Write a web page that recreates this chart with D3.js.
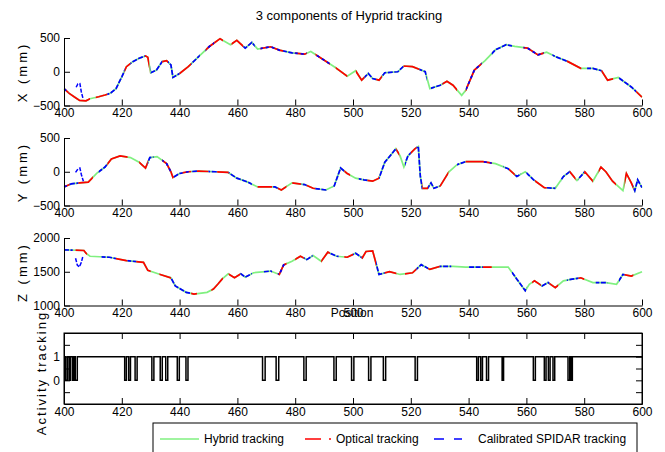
<!DOCTYPE html>
<html><head><meta charset="utf-8">
<script src="https://cdn.jsdelivr.net/npm/d3@7"></script>
<style>
body{margin:0;background:#fff}
svg text{font-family:'Liberation Sans',Arial,sans-serif;fill:#000}
</style>
</head><body>
<svg id="c" width="665" height="452"></svg>
<script>
// ---------- data ----------
const titleText = "3 components of Hyprid tracking";
const xTicks = [400,420,440,460,480,500,520,540,560,580,600];
const yTicksXY = [-500,0,500];
const yTicksZ = [1000,1500,2000];
const actTicks = [-0.5,0,0.5,1,1.5];
const actTickLabels = {"0":"0","1":"1"};
const legendLabels = ["Hybrid tracking","Optical tracking","Calibrated SPIDAR tracking"];

// X component (hybrid)
const xPos = [400,401.8,404,405.4,407.6,409,412,414.2,416,418,420,421.6,423.8,426,428.2,429,430,432,434,435.5,437,437.7,440,443,446.5,450.2,454,457.6,459.8,462.7,465,467,471.5,474.5,478.9,483.3,485.4,489,493.5,498,500.9,503,505.3,506.8,509,511,515.5,517.6,520.6,525,526.6,530.2,532.5,534.6,537.6,539,542,545.7,549.3,553,556,560.4,564,567,570,574.4,578.8,583,586,588.1,591.8,596.3,600];
const xVal = [-250,-320,-385,-425,-430,-400,-370,-345,-320,-250,-75,75,150,200,235,215,-15,25,150,165,100,-85,-25,75,220,370,490,400,465,350,435,335,370,320,280,260,300,200,75,-65,15,-125,-25,-100,-125,-15,0,85,75,0,-250,-200,-140,-200,-350,-275,25,165,325,400,375,350,250,290,225,150,50,50,15,-125,-85,-225,-375];
// Y component
const yPos = [400,402.5,405.4,408.4,411.3,414.2,416.4,419.4,423,426,428.2,429.7,432.2,435.5,437,437.7,440,443,446.5,452.4,456.8,459.8,463.4,467,473,475.2,478.9,483.3,486.2,490.6,493.5,495.7,498,500.9,503.8,506.8,509,511,513.3,514.8,516.3,517.6,519,521.4,522.6,523.3,524,525.8,527,528,530.2,533.2,536,539,544.9,549.3,553.7,556.7,559.6,562.5,566.2,570,572.8,575,577.5,580.2,583,585.8,587.5,589.8,593.4,594.6,596.3,597.5,598.5,600];
const yVal = [-225,-180,-165,-155,-25,70,190,235,210,140,55,210,225,120,0,-85,-25,0,10,0,-10,-95,-150,-225,-225,-270,-165,-190,-245,-270,-210,55,-25,-95,-120,-140,-95,140,260,340,235,70,235,340,375,-70,-245,-245,-165,-245,-210,0,105,150,150,120,45,-70,0,-120,-235,-245,-70,0,-130,0,-140,70,0,-140,-280,-25,-165,-280,-120,-235];
// Z component
const zPos = [400,406.9,407.6,409,415.7,421.6,427.5,429,433.3,437,438.5,442.3,445,449.5,451.7,453.2,454.7,456.8,459,461.2,462.7,465.6,471.5,474.5,476,478.9,481.8,484,486.2,489,491.3,494.3,498,500.9,503.2,504.5,506.8,509,512.6,516.3,520.6,523.6,526.6,530.2,534.6,539,546.4,553.7,556.7,559.6,561,562.8,565.4,567.5,570,572.8,575.8,578.8,583,587.5,591.2,593.4,596.3,600];
const zVal = [1825,1815,1775,1730,1715,1665,1640,1520,1460,1410,1290,1195,1170,1195,1245,1315,1390,1470,1410,1470,1420,1485,1510,1460,1600,1655,1730,1680,1740,1655,1790,1730,1715,1775,1705,1800,1810,1460,1500,1460,1485,1605,1535,1580,1580,1570,1570,1570,1390,1220,1315,1365,1290,1340,1265,1365,1390,1410,1340,1340,1315,1460,1435,1500];

// SPIDAR excursions away from the hybrid path
const spidarDevXPos = [404.2,404.8,405.5,406.0,406.6];
const spidarDevXVal = [-230,-180,-175,-300,-400];
const spidarDevYPos = [404.0,404.8,405.5,406.0,406.7];
const spidarDevYVal = [-10,40,55,-40,-140];
const spidarDevZPos = [404.0,404.6,405.3,406.0,406.6];
const spidarDevZVal = [1700,1600,1570,1640,1740];

// which source is drawn on top from each start position: h=hybrid only, o=optical, s=SPIDAR, m=both
const segX = [[400,'m'],[401.5,'o'],[409,'h'],[411,'o'],[415,'s'],[421,'o'],[423,'s'],[428,'o'],[429.5,'h'],[430,'s'],[434,'o'],[436,'s'],[440,'o'],[444,'s'],[447,'h'],[449,'m'],[452,'o'],[455,'h'],[458,'o'],[462,'s'],[466,'h'],[468,'m'],[476,'s'],[480,'m'],[484,'h'],[487,'m'],[492,'h'],[494,'o'],[498,'h'],[501,'o'],[504,'s'],[508,'o'],[510,'s'],[517.5,'o'],[523,'s'],[525.5,'h'],[527,'s'],[531,'o'],[536,'h'],[539,'m'],[544.5,'h'],[548,'s'],[555,'h'],[559,'m'],[566,'h'],[569,'s'],[574,'o'],[579,'h'],[581,'s'],[586,'o'],[590,'h'],[592,'s'],[598,'o']];
const segY = [[400,'m'],[402,'s'],[405,'o'],[410,'h'],[412,'s'],[415,'o'],[422,'h'],[426,'o'],[429,'s'],[431,'h'],[434,'m'],[437,'o'],[438,'s'],[441,'m'],[444,'s'],[446,'o'],[450,'s'],[453,'o'],[457,'s'],[465,'h'],[467,'o'],[472,'s'],[474,'o'],[477,'h'],[479,'o'],[482,'s'],[484,'o'],[487,'s'],[491,'h'],[493,'s'],[497,'o'],[499,'h'],[502,'s'],[505,'o'],[509,'s'],[515,'o'],[516,'h'],[518,'s'],[520,'o'],[522,'s'],[524,'o'],[526,'s'],[530,'o'],[533,'h'],[536,'s'],[539,'o'],[545,'m'],[548,'h'],[552,'s'],[554,'o'],[556,'s'],[558,'h'],[560,'s'],[563,'o'],[567,'s'],[570,'h'],[572,'s'],[575,'o'],[577,'h'],[578,'s'],[580,'o'],[583,'h'],[585,'o'],[591,'h'],[594,'o'],[597,'s']];
const segZ = [[400,'s'],[403,'h'],[404,'o'],[408,'h'],[413,'s'],[418,'o'],[422,'s'],[425,'o'],[430,'h'],[433,'o'],[437,'s'],[444,'o'],[446,'h'],[451,'o'],[455,'h'],[457,'o'],[461,'s'],[465,'h'],[469,'s'],[472,'h'],[474,'m'],[477,'h'],[480,'o'],[483,'s'],[486,'h'],[489,'o'],[492,'s'],[495,'h'],[497,'o'],[500,'s'],[503,'o'],[508,'s'],[511,'o'],[515,'h'],[518,'o'],[522,'s'],[526,'o'],[530,'s'],[534,'h'],[540,'s'],[545,'o'],[548,'h'],[555,'s'],[560,'h'],[562,'o'],[565,'s'],[568,'o'],[571,'h'],[574,'s'],[578,'o'],[580,'h'],[584,'s'],[588,'h'],[592,'s'],[594,'o'],[597,'h']];

// activity tracking: intervals where the signal drops from 1 to 0
const activityLow = [[400.6,401.2],[401.8,402.3],[403.0,403.4],[403.9,404.6],[421.0,421.6],[422.4,423.0],[424.6,425.3],[430.4,431.1],[433.3,434.0],[435.2,435.9],[439.2,439.9],[442.2,442.9],[468.7,469.6],[473.4,474.3],[483.0,483.8],[493.4,494.2],[499.5,500.3],[505.4,506.2],[510.5,511.3],[521.5,522.3],[542.8,543.4],[544.2,544.8],[546.2,546.9],[551.6,552.1],[562.4,563.1],[566.2,566.8],[567.6,568.2],[569.2,569.8],[574.4,575.0],[575.4,575.9]];

// ---------- drawing ----------
const COL = {h:'#80f080', o:'#ff0000', s:'#0000ff'};
const svg = d3.select('#c');
const x = d3.scaleLinear([400,600],[64,642]);
const FS = 12;

svg.append('text').attr('x',349).attr('y',20).attr('text-anchor','middle')
  .style('font-size','13px').text(titleText);

function styleAxis(g){
  g.selectAll('path').attr('stroke','#000').attr('stroke-width',1);
  g.selectAll('line').attr('stroke','#000').attr('stroke-width',1);
  g.selectAll('text').style('font-size',FS+'px').style('font-family',"'Liberation Sans',Arial,sans-serif").attr('fill','#000');
}

const panels = [
  {pos:xPos,val:xVal,seg:segX,dp:spidarDevXPos,dv:spidarDevXVal,dom:[-500,500],rng:[105.5,38],ticks:yTicksXY,label:'X (mm)',ly:72},
  {pos:yPos,val:yVal,seg:segY,dp:spidarDevYPos,dv:spidarDevYVal,dom:[-500,500],rng:[205.5,138],ticks:yTicksXY,label:'Y (mm)',ly:172},
  {pos:zPos,val:zVal,seg:segZ,dp:spidarDevZPos,dv:spidarDevZVal,dom:[1000,2000],rng:[305.5,238],ticks:yTicksZ,label:'Z (mm)',ly:272}
];

const defs = svg.append('defs');
let clipN = 0;
panels.forEach((p,pi)=>{
  const y = d3.scaleLinear(p.dom,p.rng);
  const line = d3.line().x(d=>x(d[0])).y(d=>y(d[1]));
  const pts = p.pos.map((v,i)=>[v,p.val[i]]);
  const g = svg.append('g');
  g.append('path').attr('d',line(pts)).attr('fill','none').attr('stroke',COL.h).attr('stroke-width',1.7);
  p.seg.forEach((s,si)=>{
    const a = s[0], b = si<p.seg.length-1 ? p.seg[si+1][0] : 600;
    if(s[1]==='h') return;
    const id='cl'+(clipN++);
    defs.append('clipPath').attr('id',id).append('rect')
      .attr('x',x(a)).attr('width',x(b)-x(a)).attr('y',p.rng[1]-10).attr('height',p.rng[0]-p.rng[1]+20);
    if(s[1]==='o'||s[1]==='m'){
      g.append('path').attr('d',line(pts)).attr('clip-path',`url(#${id})`).attr('fill','none')
        .attr('stroke',COL.o).attr('stroke-width',1.7);
    }
    if(s[1]==='s'||s[1]==='m'){
      g.append('path').attr('d',line(pts)).attr('clip-path',`url(#${id})`).attr('fill','none')
        .attr('stroke',COL.s).attr('stroke-width',1.7).attr('stroke-dasharray', s[1]==='m'?'3,3':'5,1.5');
    }
  });
  g.append('path').attr('d',line(p.dp.map((v,i)=>[v,p.dv[i]]))).attr('fill','none')
    .attr('stroke',COL.s).attr('stroke-width',1.5).attr('stroke-dasharray','4,1.5');
  const ax = svg.append('g').attr('transform',`translate(0,${p.rng[0]})`)
    .call(d3.axisBottom(x).tickValues(xTicks).tickSize(-6).tickSizeOuter(0).tickPadding(3).tickFormat(d3.format('d')));
  styleAxis(ax);
  const ay = svg.append('g').attr('transform',`translate(${x(400)},0)`)
    .call(d3.axisLeft(y).tickValues(p.ticks).tickSize(-6).tickSizeOuter(0).tickPadding(4).tickFormat(d3.format('d')));
  styleAxis(ay);
  svg.append('text').attr('transform',`translate(27,${p.ly}) rotate(-90)`).attr('text-anchor','middle')
    .style('font-size','13px').style('letter-spacing','3px').text(p.label);
});

svg.append('text').attr('x',352).attr('y',317).attr('text-anchor','middle').style('font-size',FS+'px').text('Position');

// activity panel
const ya = d3.scaleLinear([-1,2],[404,333]);
const actPts = [[400,1]];
activityLow.forEach(([a,b])=>{actPts.push([a,1],[a,0],[b,0],[b,1]);});
actPts.push([600,1]);
svg.append('path').attr('d',d3.line().x(d=>x(d[0])).y(d=>ya(d[1]))(actPts))
  .attr('fill','none').attr('stroke','#000').attr('stroke-width',1.5);
svg.append('rect').attr('x',x(400)).attr('y',333).attr('width',x(600)-x(400)).attr('height',71)
  .attr('fill','none').attr('stroke','#000');
const fmtA = v => actTickLabels[String(v)] || '';
styleAxis(svg.append('g').attr('transform','translate(0,404)')
  .call(d3.axisBottom(x).tickValues(xTicks).tickSize(-6).tickSizeOuter(0).tickPadding(3).tickFormat(d3.format('d'))));
styleAxis(svg.append('g').attr('transform','translate(0,333)')
  .call(d3.axisTop(x).tickValues(xTicks).tickSize(-6).tickSizeOuter(0).tickFormat('')));
styleAxis(svg.append('g').attr('transform',`translate(${x(400)},0)`)
  .call(d3.axisLeft(ya).tickValues(actTicks).tickSize(-6).tickSizeOuter(0).tickPadding(4).tickFormat(fmtA)));
styleAxis(svg.append('g').attr('transform',`translate(${x(600)},0)`)
  .call(d3.axisRight(ya).tickValues(actTicks).tickSize(-6).tickSizeOuter(0).tickFormat('')));
svg.append('text').attr('transform','translate(46,373) rotate(-90)').attr('text-anchor','middle')
  .style('font-size','13px').style('letter-spacing','2px').text('Activity tracking');

// legend
const lg = svg.append('g');
lg.append('rect').attr('x',153).attr('y',423).attr('width',484).attr('height',40).attr('fill','#fff').attr('stroke','#000');
const ly = 439;
lg.append('line').attr('x1',160).attr('x2',199).attr('y1',ly).attr('y2',ly).attr('stroke',COL.h).attr('stroke-width',1.5);
lg.append('text').attr('x',204).attr('y',ly+4).style('font-size',FS+'px').text(legendLabels[0]);
lg.append('line').attr('x1',305).attr('x2',333).attr('y1',ly).attr('y2',ly).attr('stroke',COL.o).attr('stroke-width',1.5).attr('stroke-dasharray','16,8,2,8');
lg.append('text').attr('x',336).attr('y',ly+4).style('font-size',FS+'px').text(legendLabels[1]);
lg.append('line').attr('x1',434).attr('x2',462).attr('y1',ly).attr('y2',ly).attr('stroke',COL.s).attr('stroke-width',1.5).attr('stroke-dasharray','10,10');
lg.append('text').attr('x',478).attr('y',ly+4).style('font-size',FS+'px').text(legendLabels[2]);
</script>
</body></html>
